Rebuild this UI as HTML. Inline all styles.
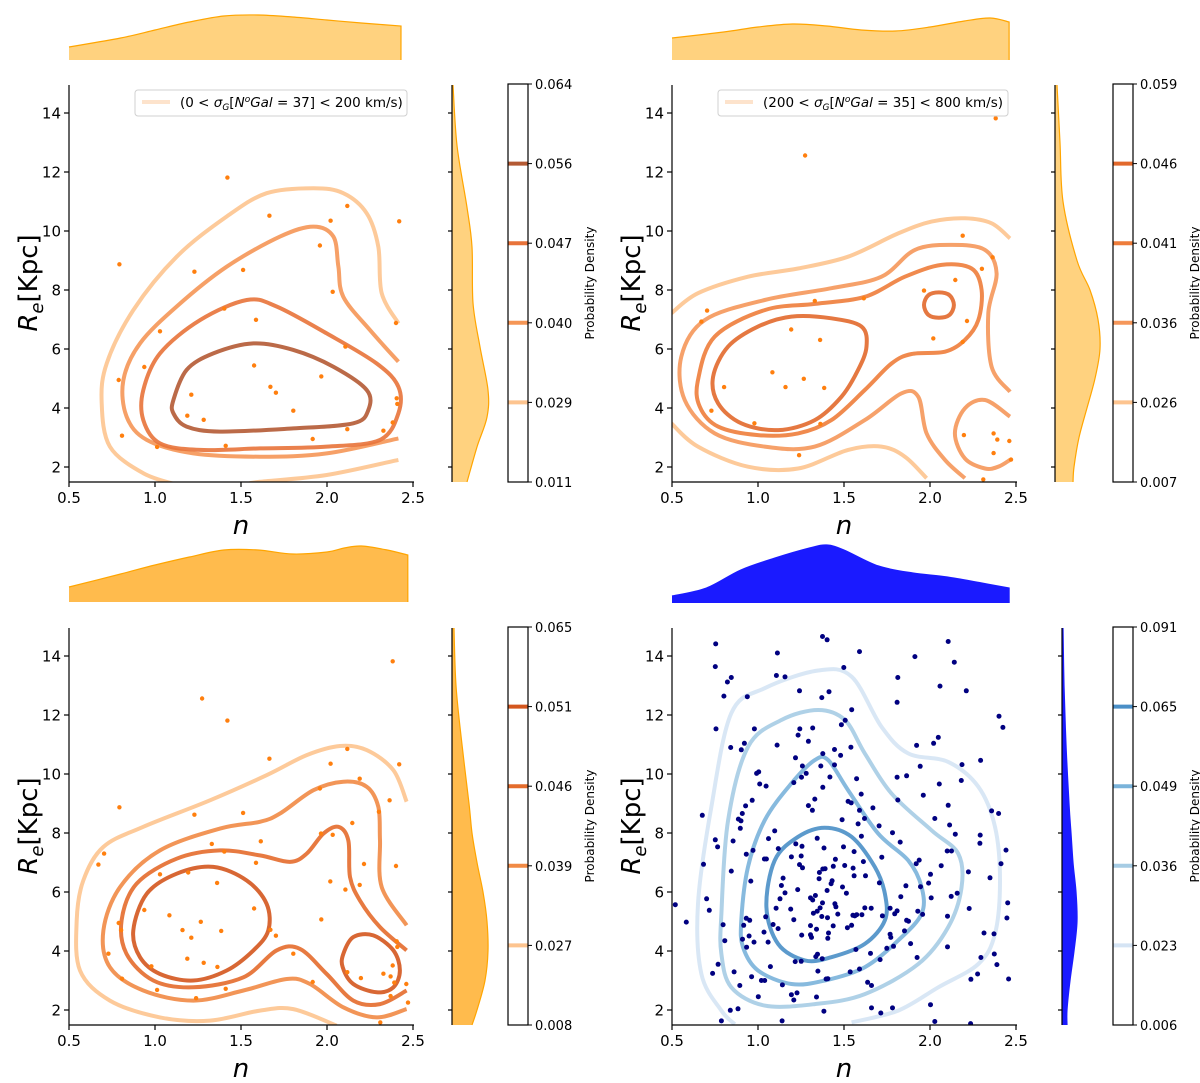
<!DOCTYPE html>
<html><head><meta charset="utf-8"><title>KDE joint plots</title>
<style>
html,body{margin:0;padding:0;background:#fff;}
svg{display:block;font-family:"DejaVu Sans","Liberation Sans",sans-serif;}
</style></head>
<body>
<svg id="fig" width="1200" height="1083" viewBox="0 0 1200 1083" xmlns="http://www.w3.org/2000/svg">
<defs>
<clipPath id="clip-tl"><rect x="69" y="85" width="345" height="397"/></clipPath>
<clipPath id="clip-tr"><rect x="672" y="85" width="345" height="397"/></clipPath>
<clipPath id="clip-bl"><rect x="69" y="628" width="345" height="397"/></clipPath>
<clipPath id="clip-br"><rect x="672" y="628" width="345" height="397"/></clipPath>
</defs>
<g id="layer"></g>
</svg>
<script>
// ---------------- DATA ----------------
const xTicks = [0.5, 1.0, 1.5, 2.0, 2.5];
const xTickLabels = ['0.5', '1.0', '1.5', '2.0', '2.5'];
const yTicks = [2, 4, 6, 8, 10, 12, 14];
const yTickLabels = ['2', '4', '6', '8', '10', '12', '14'];

const tlCbarLabels = ['0.011', '0.029', '0.040', '0.047', '0.056', '0.064'];
const trCbarLabels = ['0.007', '0.026', '0.036', '0.041', '0.046', '0.059'];
const blCbarLabels = ['0.008', '0.027', '0.039', '0.046', '0.051', '0.065'];
const brCbarLabels = ['0.006', '0.023', '0.036', '0.049', '0.065', '0.091'];

// scatter points [n, Re]
const lowSigmaPoints = [[1.421,11.81],[0.793,8.87],[1.229,8.62],[1.512,8.68],[1.665,10.52],[2.118,10.85],[2.021,10.35],[2.420,10.33],[1.959,9.51],[2.033,7.94],[1.403,7.37],[1.587,6.99],[1.029,6.60],[2.401,6.88],[2.107,6.08],[0.938,5.39],[1.576,5.44],[1.967,5.07],[0.789,4.95],[1.211,4.45],[1.671,4.72],[1.703,4.52],[2.405,4.33],[2.409,4.14],[1.188,3.74],[1.283,3.60],[1.804,3.91],[2.118,3.28],[2.382,3.51],[2.328,3.23],[0.808,3.06],[1.012,2.68],[1.411,2.72],[1.917,2.95]];
const highSigmaPoints = [[2.382,13.82],[1.274,12.56],[2.190,9.84],[2.364,9.11],[2.302,8.72],[2.147,8.34],[1.965,7.98],[1.330,7.63],[1.615,7.72],[0.704,7.30],[0.671,6.93],[2.215,6.95],[1.193,6.66],[1.361,6.31],[2.019,6.36],[2.190,6.24],[1.084,5.21],[1.266,4.99],[1.160,4.71],[1.385,4.68],[0.803,4.71],[0.729,3.91],[0.979,3.48],[1.363,3.46],[1.239,2.40],[2.197,3.08],[2.370,3.14],[2.391,2.93],[2.461,2.88],[2.370,2.47],[2.471,2.25],[2.310,1.58]];
const fieldPoints = [[0.754,14.41],[1.375,14.66],[1.402,14.55],[1.113,14.10],[1.590,14.15],[2.106,14.49],[0.752,13.64],[1.499,13.61],[1.912,13.98],[2.141,13.79],[0.822,13.12],[0.845,13.27],[1.107,13.34],[1.157,13.29],[1.813,13.27],[0.802,12.64],[0.938,12.62],[1.241,12.82],[1.413,12.79],[1.371,12.59],[2.058,12.98],[2.211,12.82],[1.809,12.43],[1.545,12.18],[2.401,11.96],[2.424,11.58],[0.756,11.53],[0.979,11.53],[1.243,11.53],[1.318,11.56],[1.485,11.67],[1.507,11.82],[1.233,11.32],[1.111,10.98],[1.293,11.11],[1.540,10.91],[0.921,11.04],[0.903,10.82],[0.841,10.90],[1.445,10.83],[1.480,10.63],[1.377,10.69],[1.218,10.55],[1.922,10.97],[2.021,11.04],[2.048,11.24],[0.992,10.02],[1.004,10.07],[1.258,10.27],[1.280,10.02],[1.365,10.27],[1.445,10.31],[1.943,10.26],[2.186,10.32],[2.294,10.46],[1.010,9.66],[1.047,9.59],[1.208,9.71],[1.253,9.89],[1.418,9.90],[1.573,9.84],[1.809,9.89],[1.864,9.94],[2.054,9.66],[2.182,9.78],[1.377,9.55],[1.600,9.32],[1.813,9.12],[1.961,9.28],[2.106,8.94],[0.966,9.11],[1.330,9.15],[1.293,8.93],[1.316,8.77],[1.524,9.07],[1.542,9.02],[1.668,8.85],[1.590,8.77],[0.928,8.92],[0.909,8.66],[0.886,8.47],[0.901,8.41],[0.897,8.16],[0.676,8.60],[1.489,8.45],[1.619,8.49],[1.582,8.31],[1.704,8.24],[2.028,8.49],[2.114,8.27],[2.358,8.75],[2.399,8.66],[1.097,8.07],[1.061,7.81],[1.344,7.82],[1.601,7.89],[1.782,8.01],[2.147,7.96],[2.292,7.93],[2.290,7.65],[0.752,7.77],[0.765,7.53],[0.855,7.73],[1.220,7.63],[1.256,7.55],[1.118,7.47],[1.384,7.49],[1.497,7.53],[1.559,7.37],[1.827,7.69],[0.932,7.28],[0.971,7.41],[1.037,7.12],[1.049,7.12],[1.194,7.19],[1.251,7.22],[1.450,7.11],[1.613,7.03],[1.720,7.18],[2.100,7.39],[2.125,7.39],[2.442,7.42],[2.413,6.96],[1.920,6.96],[1.937,7.08],[2.065,6.89],[0.683,6.94],[0.845,6.71],[0.958,6.37],[1.146,6.47],[1.241,6.93],[1.259,6.82],[1.357,6.66],[1.377,6.78],[1.390,6.79],[1.438,6.87],[1.504,6.90],[1.553,6.81],[1.625,6.55],[1.559,6.55],[1.355,6.45],[1.431,6.38],[1.425,6.28],[1.491,6.17],[1.136,6.22],[1.231,6.08],[1.157,5.97],[1.402,6.05],[1.514,5.96],[1.706,6.31],[1.860,6.21],[1.945,6.18],[2.003,6.60],[1.992,6.30],[2.223,6.68],[2.349,6.48],[2.452,5.63],[2.447,5.12],[0.519,5.57],[0.583,4.98],[0.701,5.77],[0.717,5.38],[0.797,4.89],[0.807,4.35],[0.917,4.87],[0.932,5.11],[0.952,5.04],[0.910,4.40],[0.934,4.13],[0.948,4.51],[0.977,4.30],[1.035,4.64],[1.045,5.16],[1.059,4.30],[1.088,4.90],[1.117,4.76],[1.105,5.45],[1.128,5.77],[1.190,5.42],[1.208,5.06],[1.254,4.54],[1.305,5.80],[1.318,5.73],[1.334,5.88],[1.322,5.28],[1.344,5.35],[1.361,5.46],[1.375,5.63],[1.371,5.17],[1.404,5.13],[1.437,4.85],[1.410,4.61],[1.406,4.43],[1.447,5.60],[1.453,5.50],[1.464,5.25],[1.305,4.86],[1.305,4.55],[1.311,4.46],[1.340,4.74],[1.520,4.79],[1.544,4.87],[1.552,5.21],[1.563,5.19],[1.574,5.23],[1.604,5.23],[1.621,5.46],[1.658,5.45],[1.723,5.19],[1.768,5.45],[1.795,5.26],[1.809,5.36],[1.830,5.84],[1.864,5.04],[1.875,5.01],[1.852,4.68],[1.887,4.25],[1.929,5.35],[1.957,5.24],[2.007,5.80],[2.102,5.18],[2.123,5.85],[2.158,5.96],[2.228,5.44],[2.314,4.61],[2.372,4.58],[1.768,4.57],[1.772,4.46],[1.788,4.16],[1.749,4.09],[1.569,4.05],[1.654,3.92],[1.710,3.71],[1.925,3.78],[2.102,4.14],[2.296,3.78],[2.374,3.90],[2.389,3.54],[1.346,3.89],[1.336,3.81],[1.373,3.74],[1.216,3.64],[1.251,3.65],[1.072,3.47],[0.768,3.55],[0.736,3.24],[0.861,3.29],[0.963,3.13],[1.020,3.00],[1.039,3.00],[1.142,2.85],[0.894,2.83],[1.348,3.32],[1.536,3.29],[1.590,3.39],[1.396,3.05],[1.406,3.06],[1.637,2.94],[1.660,2.83],[2.277,3.22],[2.238,3.04],[2.457,3.05],[1.002,2.45],[1.194,2.52],[1.227,2.58],[1.208,2.34],[1.340,2.44],[0.839,1.99],[0.884,2.04],[1.383,1.96],[1.660,2.07],[1.714,1.90],[1.782,2.07],[2.003,2.18],[0.787,1.63],[1.140,1.63],[2.028,1.61],[2.236,1.54]];

// contour lines [n, Re]
const tlC1a = [[2.415,6.87],[2.318,7.89],[2.298,9.47],[2.231,10.60],[2.095,11.28],[1.921,11.45],[1.649,11.28],[1.417,10.49],[1.126,9.13],[0.874,7.32],[0.719,5.51],[0.690,4.16],[0.738,2.69],[0.932,1.79],[1.126,1.40]];
const tlC1b = [[1.55,1.45],[1.610,1.50],[1.998,1.73],[2.415,2.24]];
const tlC2 = [[2.415,5.57],[2.250,6.64],[2.095,7.77],[2.066,8.79],[2.037,9.81],[1.921,10.15],[1.727,9.81],[1.417,8.79],[1.126,7.44],[0.913,6.19],[0.816,4.95],[0.835,3.71],[0.952,2.92],[1.223,2.46],[1.610,2.35],[1.998,2.46],[2.415,2.97]];
const tlC3 = [[0.932,4.61],[1.029,5.85],[1.262,6.98],[1.533,7.66],[1.707,7.44],[1.998,6.53],[2.289,5.51],[2.415,4.72],[2.415,3.82],[2.308,2.92],[1.998,2.69],[1.610,2.63],[1.262,2.58],[1.029,2.80],[0.932,3.59]];
const tlC4 = [[1.107,4.27],[1.184,5.29],[1.339,5.85],[1.572,6.19],[1.804,5.97],[2.037,5.40],[2.231,4.61],[2.240,3.93],[2.153,3.48],[1.804,3.31],[1.378,3.20],[1.184,3.37],[1.107,3.82]];

const trC1a = [[0.496,7.21],[0.651,7.89],[0.942,8.45],[1.233,8.73],[1.524,9.13],[1.815,9.92],[2.009,10.32],[2.203,10.43],[2.358,10.26],[2.465,9.75]];
const trC1b = [[0.496,3.48],[0.651,2.69],[0.942,2.01],[1.233,1.95],[1.524,2.58],[1.718,2.69],[1.854,2.35],[1.980,1.62]];
const trC2a = [[2.465,4.55],[2.358,5.40],[2.339,7.21],[2.387,8.56],[2.320,9.36],[2.126,9.53],[1.912,9.36],[1.718,8.45],[1.427,8.06],[1.039,7.66],[0.690,6.98],[0.554,5.74],[0.574,4.27],[0.748,3.14],[1.039,2.69],[1.330,2.69],[1.621,3.59],[1.835,4.50],[1.932,4.38],[1.980,3.14],[2.087,2.24],[2.203,1.62]];
const trC2b = [[2.465,3.71],[2.320,4.27],[2.203,3.99],[2.145,3.14],[2.203,2.29],[2.320,1.95],[2.397,2.01],[2.465,2.24]];
const trC3 = [[0.651,4.95],[0.748,6.42],[1.039,7.32],[1.330,7.53],[1.621,7.77],[1.854,8.45],[2.067,8.85],[2.242,8.73],[2.300,8.00],[2.281,6.98],[2.203,6.31],[2.087,5.91],[1.893,5.83],[1.776,5.51],[1.621,4.61],[1.427,3.59],[1.233,3.14],[1.000,3.08],[0.768,3.37],[0.661,4.05]];
const trC4a = [[0.739,5.06],[0.826,6.08],[1.000,6.76],[1.194,7.10],[1.427,7.04],[1.602,6.76],[1.631,6.08],[1.582,5.29],[1.485,4.38],[1.330,3.59],[1.117,3.25],[0.903,3.48],[0.768,4.16]];
const trC4b = [[1.965,7.49],[1.990,7.82],[2.052,7.92],[2.114,7.82],[2.139,7.49],[2.114,7.16],[2.052,7.06],[1.990,7.16]];

const blC1 = [[2.463,9.06],[2.386,10.13],[2.231,10.81],[2.076,10.95],[1.882,10.64],[1.649,9.96],[1.320,9.11],[0.932,8.21],[0.700,7.53],[0.583,6.39],[0.545,5.04],[0.564,3.34],[0.738,2.32],[1.029,1.75],[1.320,1.64],[1.610,1.98],[1.804,2.03],[2.056,1.47]];
const blC2 = [[2.463,4.87],[2.318,6.17],[2.308,7.75],[2.298,8.89],[2.231,9.57],[2.095,9.74],[1.921,9.45],[1.727,8.66],[1.610,8.38],[1.378,8.15],[1.029,7.41],[0.797,6.17],[0.700,4.70],[0.738,3.45],[0.932,2.66],[1.223,2.32],[1.514,2.66],[1.766,3.05],[1.901,2.88],[2.095,2.09],[2.289,1.75],[2.463,2.03]];
const blC3 = [[2.463,4.02],[2.308,4.81],[2.192,5.71],[2.134,6.51],[2.124,7.75],[2.066,8.21],[1.979,7.98],[1.882,7.30],[1.785,7.02],[1.610,7.24],[1.378,7.41],[1.126,7.13],[0.893,6.28],[0.806,5.04],[0.835,3.90],[0.990,3.00],[1.223,2.77],[1.514,3.11],[1.707,4.02],[1.843,4.07],[1.998,3.22],[2.153,2.32],[2.308,2.20],[2.463,2.66]];
const blC4a = [[0.874,4.70],[0.952,5.94],[1.126,6.62],[1.339,6.85],[1.533,6.39],[1.649,5.60],[1.659,4.70],[1.572,4.02],[1.417,3.34],[1.223,3.00],[1.029,3.22],[0.913,3.79]];
const blC4b = [[2.095,3.90],[2.153,4.47],[2.269,4.53],[2.386,4.02],[2.424,3.34],[2.386,2.77],[2.289,2.60],[2.153,2.88],[2.091,3.45]];

const brC1 = [[1.544,1.58],[1.815,1.98],[2.048,2.77],[2.281,3.56],[2.378,4.58],[2.407,6.39],[2.378,8.21],[2.281,9.57],[2.106,10.41],[1.873,10.70],[1.718,11.60],[1.544,13.30],[1.350,13.51],[1.039,12.91],[0.845,12.06],[0.729,8.89],[0.651,5.60],[0.671,3.22],[0.787,1.98],[0.865,1.52]];
const brC2 = [[0.787,5.26],[0.826,8.43],[0.942,10.92],[1.136,11.83],[1.350,12.17],[1.505,11.83],[1.621,10.70],[1.776,9.34],[2.009,8.09],[2.164,7.30],[2.184,6.17],[2.106,4.81],[1.932,3.56],[1.621,2.54],[1.330,2.20],[1.039,2.15],[0.845,2.77],[0.787,3.90]];
const brC3 = [[0.903,5.04],[0.942,6.85],[1.039,8.43],[1.194,9.68],[1.330,10.47],[1.408,10.47],[1.524,9.45],[1.699,7.98],[1.873,7.07],[1.951,6.17],[1.951,5.26],[1.815,4.36],[1.621,3.45],[1.388,3.00],[1.194,2.88],[1.000,3.34],[0.913,4.13]];
const brC4 = [[1.049,5.49],[1.097,7.07],[1.233,7.87],[1.388,8.18],[1.544,7.87],[1.679,6.85],[1.738,5.94],[1.738,5.04],[1.621,4.24],[1.427,3.79],[1.272,3.68],[1.117,4.24]];

// marginal densities
const tlTopN = [0.5,0.8,1.0,1.2,1.4,1.6,1.8,2.0,2.2,2.43];
const tlTopD = [0.13,0.22,0.30,0.38,0.44,0.45,0.43,0.40,0.37,0.34];
const trTopN = [0.5,0.8,1.0,1.2,1.4,1.6,1.8,2.0,2.2,2.35,2.46];
const trTopD = [0.22,0.28,0.33,0.36,0.34,0.30,0.29,0.33,0.39,0.42,0.38];
const blTopN = [0.5,0.8,1.0,1.2,1.4,1.6,1.8,2.0,2.1,2.2,2.35,2.47];
const blTopD = [0.15,0.28,0.37,0.45,0.52,0.52,0.48,0.50,0.54,0.56,0.52,0.47];
const brTopN = [0.5,0.7,0.9,1.1,1.3,1.4,1.5,1.7,1.9,2.1,2.3,2.46];
const brTopD = [0.07,0.15,0.33,0.45,0.55,0.58,0.53,0.37,0.30,0.26,0.20,0.15];
const tlSideRe = [14.95,12.9,10.8,9.46,7.56,6.07,4.61,3.69,2.68,1.49];
const tlSideD = [0.01,0.05,0.15,0.20,0.21,0.28,0.36,0.35,0.25,0.15];
const sideRe = [14.95,13,11,9,8,7,6,5,4,3,2,1.49];
const trSideD = [0.02,0.05,0.08,0.22,0.35,0.43,0.45,0.40,0.32,0.24,0.19,0.18];
const blSideD = [0.02,0.04,0.10,0.17,0.20,0.25,0.31,0.35,0.36,0.33,0.25,0.20];
const brSideD = [0.01,0.02,0.04,0.07,0.09,0.11,0.14,0.15,0.12,0.08,0.05,0.05];

// ---------------- DRAWING ----------------
const NS = 'http://www.w3.org/2000/svg';
const layer = document.getElementById('layer');
function mk(tag, attrs, parent) {
  const e = document.createElementNS(NS, tag);
  for (const k in attrs) e.setAttribute(k, attrs[k]);
  (parent || layer).appendChild(e);
  return e;
}
function path(pts, closed) {
  const n = pts.length;
  const g = i => closed ? pts[(i + n) % n] : pts[Math.max(0, Math.min(n - 1, i))];
  let d = 'M' + pts[0][0].toFixed(1) + ',' + pts[0][1].toFixed(1);
  const segs = closed ? n : n - 1;
  for (let i = 0; i < segs; i++) {
    const p0 = g(i - 1), p1 = g(i), p2 = g(i + 1), p3 = g(i + 2);
    const c1 = [p1[0] + (p2[0] - p0[0]) / 6, p1[1] + (p2[1] - p0[1]) / 6];
    const c2 = [p2[0] - (p3[0] - p1[0]) / 6, p2[1] - (p3[1] - p1[1]) / 6];
    d += 'C' + c1[0].toFixed(1) + ',' + c1[1].toFixed(1) + ' ' + c2[0].toFixed(1) + ',' + c2[1].toFixed(1) + ' ' + p2[0].toFixed(1) + ',' + p2[1].toFixed(1);
  }
  return closed ? d + 'Z' : d;
}

function drawPanel(cfg) {
  const g = mk('g', {});
  
  
  const xs = n => cfg.x0 + (n - 0.5) * 172;
  const ys = r => cfg.yb - (r - 2) * 29.5;
  const top = cfg.yb - 382, bottom = cfg.yb + 15;

  // contours
  const cg = mk('g', {'clip-path': 'url(#clip-' + cfg.id + ')'}, g);
  
  
  cfg.contours.forEach(c => {
    const p = mk('path', {d: path(c.pts.map(q => [xs(q[0]), ys(q[1])]), c.closed), fill: 'none', stroke: cfg.colors[c.level], 'stroke-width': 4, 'stroke-linejoin': 'round', 'stroke-linecap': 'butt', opacity: 0.9}, cg);
    
    
  });
  // scatter
  const sg = mk('g', {'clip-path': 'url(#clip-' + cfg.id + ')'}, g);
  
  
  cfg.points.forEach(q => {
    const c = mk('circle', {cx: xs(q[0]).toFixed(1), cy: ys(q[1]).toFixed(1), r: cfg.pr, fill: cfg.pc}, sg);
    
    
  });
  // axes
  const ax = mk('g', {stroke: '#000', 'stroke-width': 1.2}, g);
  
  
  mk('line', {x1: cfg.x0, y1: top, x2: cfg.x0, y2: bottom}, ax);
  mk('line', {x1: cfg.x0, y1: bottom, x2: cfg.x0 + 345, y2: bottom}, ax);
  xTicks.forEach((t, i) => {
    mk('line', {x1: xs(t), y1: bottom, x2: xs(t), y2: bottom + 5}, ax);
    const tx = mk('text', {x: xs(t), y: bottom + 21, 'text-anchor': 'middle', 'font-size': 15, fill: '#000', stroke: 'none'}, g);
    tx.textContent = xTickLabels[i];
    
    
  });
  yTicks.forEach((t, i) => {
    mk('line', {x1: cfg.x0 - 5, y1: ys(t), x2: cfg.x0, y2: ys(t)}, ax);
    const tx = mk('text', {x: cfg.x0 - 8, y: ys(t) + 5.5, 'text-anchor': 'end', 'font-size': 15, fill: '#000', stroke: 'none'}, g);
    tx.textContent = yTickLabels[i];
    
    
  });
  const xl = mk('text', {x: cfg.x0 + 172, y: bottom + 52, 'text-anchor': 'middle', 'font-size': 26, 'font-style': 'italic'}, g);
  xl.textContent = 'n';
  
  
  const yl = mk('text', {x: 0, y: 0, 'text-anchor': 'middle', 'font-size': 26, transform: 'translate(' + (cfg.x0 - 32) + ',' + (cfg.yb - 184) + ') rotate(-90)'}, g);
  yl.innerHTML = '<tspan font-style="italic">R</tspan><tspan font-style="italic" font-size="18" dy="6">e</tspan><tspan dy="-6">[Kpc]</tspan>';
  
  

  // top marginal
  const tp = cfg.topN.map((n, i) => [xs(n), cfg.topBase - cfg.topD[i] * 100]);
  const lastX = tp[tp.length - 1][0];
  let dTop = path(tp, false);
  const mt = mk('path', {d: dTop + 'L' + lastX + ',' + cfg.topBase + 'L' + xs(0.5) + ',' + cfg.topBase + 'Z', fill: cfg.mfill, stroke: 'none'}, g);
  
  
  mk('path', {d: dTop + 'L' + lastX + ',' + cfg.topBase, fill: 'none', stroke: cfg.mstroke, 'stroke-width': 1.2}, g);

  // side marginal
  const sp = cfg.sideRe.map((r, i) => [cfg.sideX + cfg.sideD[i] * 100, Math.max(top, Math.min(bottom, ys(r)))]);
  const dSide = path(sp, false);
  const ms = mk('path', {d: dSide + 'L' + cfg.sideX + ',' + bottom + 'L' + cfg.sideX + ',' + top + 'Z', fill: cfg.mfill, stroke: 'none'}, g);
  
  
  mk('path', {d: dSide, fill: 'none', stroke: cfg.mstroke, 'stroke-width': 1.2}, g);
  const sa = mk('g', {stroke: '#000', 'stroke-width': 1.2}, g);
  
  
  mk('line', {x1: cfg.sideX, y1: top, x2: cfg.sideX, y2: bottom}, sa);
  yTicks.forEach(t => mk('line', {x1: cfg.sideX - 4, y1: ys(t), x2: cfg.sideX, y2: ys(t)}, sa));

  // colorbar
  const cb = mk('g', {}, g);
  
  
  const cx = cfg.cbX, ct = top - 1, cbb = bottom;
  const step = (cbb - ct) / (cfg.cbar.length - 1);
  cfg.cbar.forEach((lab, i) => {
    const y = cbb - i * step;
    if (i > 0 && i < cfg.cbar.length - 1) {
      const ln = mk('line', {x1: cx, y1: y, x2: cx + 20, y2: y, stroke: cfg.colors[i - 1], 'stroke-width': 4}, cb);
      
      
    }
    mk('line', {x1: cx + 20, y1: y, x2: cx + 24, y2: y, stroke: '#000', 'stroke-width': 1}, cb);
    const t = mk('text', {x: cx + 27, y: y + 5, 'font-size': 13}, cb);
    t.textContent = lab;
    
    
  });
  mk('rect', {x: cx, y: ct, width: 20, height: cbb - ct, fill: 'none', stroke: '#000', 'stroke-width': 1.2}, cb);
  const pd = mk('text', {x: 0, y: 0, 'text-anchor': 'middle', 'font-size': 12, transform: 'translate(' + (cx + 86) + ',' + ((ct + cbb) / 2) + ') rotate(-90)'}, cb);
  pd.textContent = 'Probability Density';
  
  

  // legend
  if (cfg.legend) {
    const lg = mk('g', {}, g);
    
    
    mk('rect', {x: cfg.legend.x, y: 90, width: cfg.legend.w, height: 26, rx: 3, fill: '#fff', stroke: '#d0d0d0', 'stroke-width': 1}, lg);
    mk('line', {x1: cfg.legend.x + 7, y1: 102, x2: cfg.legend.x + 35, y2: 102, stroke: '#fde3cc', 'stroke-width': 4}, lg);
    const lt = mk('text', {x: cfg.legend.x + 45, y: 107, 'font-size': 13.5}, lg);
    lt.innerHTML = cfg.legend.html;
    
    
  }
}

const orangeFill = '#ffd27f', orangeStroke = '#ffa500';
drawPanel({id: 'tl', name: 'low-dispersion', x0: 69, yb: 467, topBase: 60, sideX: 452, cbX: 508,
  contours: [{pts: tlC1a, level: 0, closed: false}, {pts: tlC1b, level: 0, closed: false}, {pts: tlC2, level: 1, closed: false}, {pts: tlC3, level: 2, closed: true}, {pts: tlC4, level: 3, closed: true}],
  colors: ['#fdc48f', '#f59656', '#e8733a', '#b45a34'], cbar: tlCbarLabels,
  points: lowSigmaPoints, pr: 2.2, pc: '#ff7f0e', topN: tlTopN, topD: tlTopD, sideRe: tlSideRe, sideD: tlSideD,
  mfill: orangeFill, mstroke: orangeStroke,
  legend: {x: 135, w: 272, html: '(0 &lt; <tspan font-style="italic">σ</tspan><tspan font-size="9" dy="3" font-style="italic">G</tspan><tspan dy="-3">[</tspan><tspan font-style="italic">N</tspan><tspan font-size="9" dy="-5" font-style="italic">o</tspan><tspan dy="5" font-style="italic">Gal</tspan> = 37] &lt; 200 km/s)'}});
drawPanel({id: 'tr', name: 'high-dispersion', x0: 672, yb: 467, topBase: 60, sideX: 1055, cbX: 1113,
  contours: [{pts: trC1a, level: 0, closed: false}, {pts: trC1b, level: 0, closed: false}, {pts: trC2a, level: 1, closed: false}, {pts: trC2b, level: 1, closed: false}, {pts: trC3, level: 2, closed: true}, {pts: trC4a, level: 3, closed: true}, {pts: trC4b, level: 3, closed: true}],
  colors: ['#fdc48f', '#f5975a', '#ee7d3b', '#e2692c'], cbar: trCbarLabels,
  points: highSigmaPoints, pr: 2.2, pc: '#ff7f0e', topN: trTopN, topD: trTopD, sideRe: sideRe, sideD: trSideD,
  mfill: orangeFill, mstroke: orangeStroke,
  legend: {x: 718, w: 290, html: '(200 &lt; <tspan font-style="italic">σ</tspan><tspan font-size="9" dy="3" font-style="italic">G</tspan><tspan dy="-3">[</tspan><tspan font-style="italic">N</tspan><tspan font-size="9" dy="-5" font-style="italic">o</tspan><tspan dy="5" font-style="italic">Gal</tspan> = 35] &lt; 800 km/s)'}});
drawPanel({id: 'bl', name: 'combined-groups', x0: 69, yb: 1010, topBase: 602, sideX: 452, cbX: 508,
  contours: [{pts: blC1, level: 0, closed: false}, {pts: blC2, level: 1, closed: false}, {pts: blC3, level: 2, closed: false}, {pts: blC4a, level: 3, closed: true}, {pts: blC4b, level: 3, closed: true}],
  colors: ['#fdc48f', '#f18a45', '#e46c2c', '#d4571e'], cbar: blCbarLabels,
  points: lowSigmaPoints.concat(highSigmaPoints), pr: 2.2, pc: '#ff7f0e', topN: blTopN, topD: blTopD, sideRe: sideRe, sideD: blSideD,
  mfill: '#ffbb4d', mstroke: '#ffa500'});
drawPanel({id: 'br', name: 'field-galaxies', x0: 672, yb: 1010, topBase: 603, sideX: 1062, cbX: 1113,
  contours: [{pts: brC1, level: 0, closed: false}, {pts: brC2, level: 1, closed: true}, {pts: brC3, level: 2, closed: true}, {pts: brC4, level: 3, closed: true}],
  colors: ['#d5e4f4', '#a6cce4', '#7ab3da', '#4a8fc7'], cbar: brCbarLabels,
  points: fieldPoints, pr: 2.5, pc: '#000080', topN: brTopN, topD: brTopD, sideRe: sideRe, sideD: brSideD,
  mfill: '#1a1aff', mstroke: '#1a1aff'});
</script>
</body></html>
